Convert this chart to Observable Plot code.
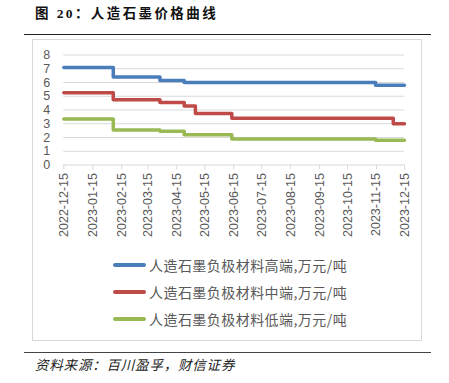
<!DOCTYPE html>
<html>
<head>
<meta charset="utf-8">
<script src="https://cdn.jsdelivr.net/npm/d3@7"></script>
<script src="https://cdn.jsdelivr.net/npm/@observablehq/plot@0.6"></script>
<style>
  html, body { margin: 0; padding: 0; background: #fff; }
  body { width: 449px; height: 383px; position: relative; overflow: hidden; font-family: "Liberation Sans", "Noto Sans CJK SC", sans-serif; }
  .abs { position: absolute; }
  #title { left: 35px; top: 5px; font-family: "Liberation Serif", "Noto Sans CJK SC", serif; font-weight: bold; font-size: 13.5px; letter-spacing: 2.4px; color: #111; white-space: nowrap; line-height: 18px; }
  #tline { left: 24px; top: 34px; width: 407px; height: 0; border-top: 1.6px solid #222; }
  #frame { left: 32px; top: 39px; width: 388px; height: 300px; border: 1px solid #d9d9d9; }
  #chart { left: 32px; top: 39px; }
  .leg { position: absolute; left: 113px; height: 18px; width: 320px; }
  .sw { position: absolute; left: 0; top: 7px; width: 33px; height: 4px; border-radius: 2px; }
  .lt { position: absolute; left: 36px; top: 0; font-family: "Noto Sans CJK SC", sans-serif; font-size: 14px; letter-spacing: 0.45px; line-height: 18px; color: #595959; white-space: nowrap; }
  #bline { left: 24px; top: 352px; width: 407px; height: 0; border-top: 1.6px solid #444; }
  #source { left: 35px; top: 355px; font-family: "Noto Sans CJK SC", sans-serif; font-style: italic; font-size: 13.5px; letter-spacing: 0.8px; color: #222; line-height: 18px; white-space: nowrap; }
</style>
</head>
<body>
<div id="title" class="abs">图 20：人造石墨价格曲线</div>
<div id="tline" class="abs"></div>
<div id="frame" class="abs"></div>
<div id="chart" class="abs"></div>
<div id="legend"></div>
<div id="bline" class="abs"></div>
<div id="source" class="abs">资料来源：百川盈孚，财信证券</div>
<script>
const dates = ["2022-12-15","2023-02-06","2023-03-28","2023-04-23","2023-05-05","2023-06-13","2023-11-14","2023-12-03","2023-12-15"];
const highEnd = [7.1, 6.4, 6.15, 6.0, 6.0, 6.0, 5.8, 5.8, 5.8];
const midEnd  = [5.25, 4.75, 4.55, 4.3, 3.75, 3.4, 3.4, 3.0, 3.0];
const lowEnd  = [3.35, 2.55, 2.45, 2.2, 2.2, 1.9, 1.8, 1.8, 1.8];
const seriesNames = ["人造石墨负极材料高端,万元/吨", "人造石墨负极材料中端,万元/吨", "人造石墨负极材料低端,万元/吨"];
const seriesColors = ["#4a7ebb", "#be4b48", "#98b954"];
const xTickLabels = ["2022-12-15","2023-01-15","2023-02-15","2023-03-15","2023-04-15","2023-05-15","2023-06-15","2023-07-15","2023-08-15","2023-09-15","2023-10-15","2023-11-15","2023-12-15"];
const yTicks = [0,1,2,3,4,5,6,7,8];

const parse = d3.utcParse("%Y-%m-%d");
const fmt = d3.utcFormat("%Y-%m-%d");
const allSeries = [highEnd, midEnd, lowEnd];
const rows = [];
allSeries.forEach((vals, si) => {
  vals.forEach((v, i) => rows.push({date: parse(dates[i]), value: v, series: seriesNames[si]}));
});
const xTicks = xTickLabels.map(parse);

const plot = Plot.plot({
  width: 389,
  height: 206,
  marginLeft: 31.3,
  marginRight: 17,
  marginTop: 15.5,
  marginBottom: 80.5,
  style: {fontFamily: "Liberation Sans, Arial, sans-serif", fontSize: "12.5px", color: "#595959", background: "transparent"},
  x: {type: "utc", domain: [xTicks[0], xTicks[xTicks.length - 1]]},
  y: {domain: [0, 8]},
  color: {domain: seriesNames, range: seriesColors},
  marks: [
    Plot.gridY(yTicks.filter(d => d > 0), {stroke: "#d9d9d9", strokeOpacity: 1, strokeWidth: 1}),
    Plot.ruleY([0], {stroke: "#d9d9d9", strokeWidth: 1}),
    Plot.axisY({ticks: yTicks, tickSize: 0, tickPadding: 13.5, fill: "#595959", fontSize: 12.5, label: null}),
    Plot.axisX({ticks: xTicks, tickFormat: fmt, tickRotate: -90, tickSize: 5, tickPadding: 3, stroke: "#d9d9d9", fill: "#595959", fontSize: 12.5, label: null}),
    Plot.line(rows, {x: "date", y: "value", z: "series", stroke: "series", strokeWidth: 3.5, curve: "step-after", strokeLinejoin: "round", strokeLinecap: "round"})
  ]
});
document.getElementById("chart").appendChild(plot);

const legend = document.getElementById("legend");
const legendTops = [256, 283, 310];
seriesNames.forEach((name, i) => {
  const item = document.createElement("div");
  item.className = "leg";
  item.style.top = legendTops[i] + "px";
  const sw = document.createElement("div");
  sw.className = "sw";
  sw.style.background = seriesColors[i];
  const lt = document.createElement("div");
  lt.className = "lt";
  lt.textContent = name;
  item.appendChild(sw);
  item.appendChild(lt);
  legend.appendChild(item);
});
</script>
</body>
</html>
